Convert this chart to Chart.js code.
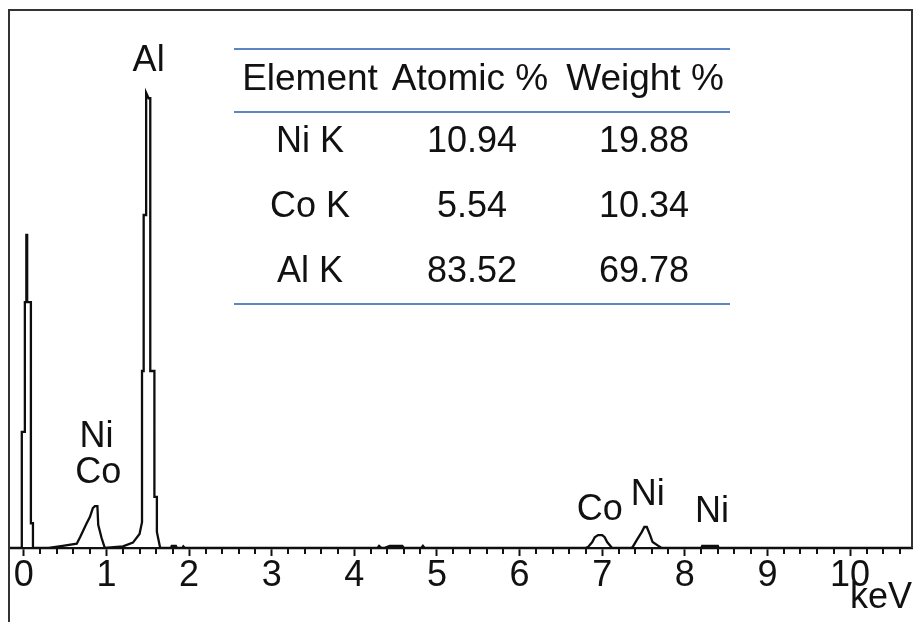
<!DOCTYPE html>
<html>
<head>
<meta charset="utf-8">
<script src="https://cdn.jsdelivr.net/npm/chart.js@4/dist/chart.umd.min.js"></script>
<style>
body { margin: 0; background: #fff; }
canvas { display: block; }
</style>
</head>
<body>
<canvas id="edsChart" width="913" height="622"></canvas>
<script>
// EDS spectrum, energy in keV and counts (relative)
const energy = [-0.18, -0.03, -0.025, 0.012, 0.012, 0.03, 0.03, 0.04, 0.04, 0.085, 0.085, 0.11, 0.11,
  0.30, 0.47, 0.64, 0.68, 0.76, 0.80, 0.835, 0.86, 0.89, 0.90, 0.94, 0.98,
  1.20, 1.32, 1.40, 1.43, 1.43, 1.45, 1.45, 1.48, 1.48, 1.51, 1.53, 1.53, 1.58, 1.58, 1.61, 1.61, 1.65,
  1.78, 1.79, 1.84, 1.85, 1.92, 1.93, 1.95,
  4.28, 4.30, 4.33, 4.36, 4.43, 4.58, 4.60, 4.81, 4.83, 4.85,
  6.80, 6.83, 6.88, 6.91, 6.95, 7.00, 7.03, 7.06, 7.12,
  7.35, 7.37, 7.42, 7.48, 7.51, 7.54, 7.58, 7.61, 7.68, 7.72,
  8.20, 8.21, 8.40, 8.41, 10.75];
const counts = [0, 0, 21.6, 21.6, 45.7, 45.7, 58.2, 58.2, 45.7, 45.7, 4.6, 4.6, 0,
  0, 0.4, 0.8, 2.0, 4.6, 5.8, 7.4, 7.8, 7.8, 4.3, 1.9, 0,
  0.3, 1.0, 2.6, 4.8, 32.9, 32.9, 61.9, 61.9, 84.6, 83.6, 83.6, 32.9, 32.9, 9.5, 9.5, 3.0, 0,
  0, 0.4, 0.4, 0, 0, 0.3, 0,
  0, 0.4, 0, 0, 0.4, 0.4, 0, 0, 0.4, 0,
  0, 0.2, 1.1, 2.0, 2.4, 2.4, 2.0, 1.1, 0,
  0, 0.2, 1.5, 3.0, 3.9, 3.9, 2.4, 1.1, 0.4, 0,
  0, 0.4, 0.4, 0, 0];

// peak labels
const peakNames = ["Al", "Ni", "Co", "Co", "Ni", "Ni"];
const peakKeV = [1.51, 0.88, 0.90, 6.97, 7.55, 8.33];
const peakLevel = [90.5, 20.6, 13.9, 7.1, 9.9, 6.7];

// tick values
const majorTicks = [0, 1, 2, 3, 4, 5, 6, 7, 8, 9, 10];
const minorTicks = [0.2, 0.4, 0.6, 0.8, 1.2, 1.4, 1.6, 1.8, 2.2, 2.4, 2.6, 2.8, 3.2, 3.4, 3.6, 3.8,
  4.2, 4.4, 4.6, 4.8, 5.2, 5.4, 5.6, 5.8, 6.2, 6.4, 6.6, 6.8, 7.2, 7.4, 7.6, 7.8,
  8.2, 8.4, 8.6, 8.8, 9.2, 9.4, 9.6, 9.8, 10.2, 10.4, 10.6];

// composition table
const tableHeader = ["Element", "Atomic %", "Weight %"];
const tableElements = ["Ni K", "Co K", "Al K"];
const tableAtomic = ["10.94", "5.54", "83.52"];
const tableWeight = ["19.88", "10.34", "69.78"];

const FONT = "'Liberation Sans', Arial, sans-serif";

const extras = {
  id: "extras",
  afterDraw(chart) {
    const ctx = chart.ctx;
    const a = chart.chartArea;
    const xs = chart.scales.x;
    const ys = chart.scales.y;
    ctx.save();

    // frame
    ctx.strokeStyle = "#333";
    ctx.lineWidth = 2;
    ctx.beginPath();
    ctx.moveTo(a.left, chart.height);
    ctx.lineTo(a.left, a.top);
    ctx.lineTo(a.right, a.top);
    ctx.lineTo(a.right, a.bottom);
    ctx.stroke();

    // minor ticks
    ctx.strokeStyle = "#111";
    ctx.beginPath();
    minorTicks.forEach(v => {
      const px = Math.round(xs.getPixelForValue(v));
      ctx.moveTo(px, a.bottom);
      ctx.lineTo(px, a.bottom + 6);
    });
    ctx.stroke();

    // peak labels
    ctx.fillStyle = "#111";
    ctx.font = "36px " + FONT;
    ctx.textAlign = "center";
    ctx.textBaseline = "middle";
    peakNames.forEach((name, i) => {
      ctx.fillText(name, xs.getPixelForValue(peakKeV[i]), ys.getPixelForValue(peakLevel[i]));
    });

    // table
    const cols = [310, 472, 644];
    const rowY = [142, 207, 272];
    ctx.strokeStyle = "#5b86c3";
    ctx.lineWidth = 2;
    ctx.beginPath();
    [49, 112, 304].forEach(y => {
      ctx.moveTo(234, y);
      ctx.lineTo(730, y);
    });
    ctx.stroke();

    tableElements.forEach((e, i) => {
      ctx.fillText(e, cols[0], rowY[i]);
      ctx.fillText(tableAtomic[i], cols[1], rowY[i]);
      ctx.fillText(tableWeight[i], cols[2], rowY[i]);
    });
    ctx.font = "37px " + FONT;
    const headX = [310, 470, 645];
    tableHeader.forEach((h, i) => ctx.fillText(h, headX[i], 80));

    ctx.restore();
  }
};

new Chart(document.getElementById("edsChart"), {
  type: "line",
  data: {
    datasets: [{
      data: energy.map((e, i) => ({ x: e, y: counts[i] })),
      borderColor: "#0d0d0d",
      borderWidth: 2.3,
      pointRadius: 0,
      tension: 0,
      fill: false
    }]
  },
  options: {
    responsive: false,
    animation: false,
    devicePixelRatio: 1,
    layout: { padding: { left: 9, top: 10, right: 1, bottom: 0 } },
    plugins: { legend: { display: false }, tooltip: { enabled: false } },
    scales: {
      x: {
        type: "linear",
        min: -0.18,
        max: 10.75,
        afterFit: s => { s.height = 74; },
        afterBuildTicks: s => { s.ticks = majorTicks.map(v => ({ value: v })); },
        ticks: {
          autoSkip: false,
          maxRotation: 0,
          padding: -2,
          color: "#111",
          font: { size: 36, family: FONT }
        },
        grid: {
          drawOnChartArea: false,
          drawTicks: true,
          tickLength: 8,
          tickWidth: 2,
          tickColor: "#111"
        },
        border: { color: "#111", width: 2.3 },
        title: {
          display: true,
          text: "keV",
          align: "end",
          color: "#111",
          padding: { top: 0, bottom: 2 },
          font: { size: 36, family: FONT }
        }
      },
      y: {
        display: false,
        min: 0,
        max: 100
      }
    }
  },
  plugins: [extras]
});
</script>
</body>
</html>
